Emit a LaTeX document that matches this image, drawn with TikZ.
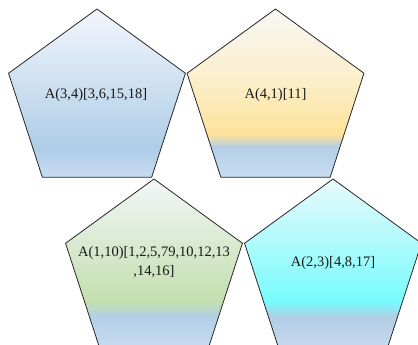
\documentclass[tikz,border=0pt]{standalone}
\usepackage{fontspec}
\setmainfont{Liberation Serif}
\definecolor{pA0}{HTML}{F2F6FB}
\definecolor{pA1}{HTML}{AFCDE8}
\definecolor{pA2}{HTML}{C8DCF1}
\definecolor{pB0}{HTML}{F7F7F4}
\definecolor{pB1}{HTML}{FBEFCD}
\definecolor{pB2}{HTML}{FDE29A}
\definecolor{pB3}{HTML}{B4CFE8}
\definecolor{pB4}{HTML}{C7DCF0}
\definecolor{pC0}{HTML}{F3F6F8}
\definecolor{pC1}{HTML}{C3DFAE}
\definecolor{pC2}{HTML}{B3CFE9}
\definecolor{pC3}{HTML}{C7DBF0}
\definecolor{pD0}{HTML}{E9FAFB}
\definecolor{pD1}{HTML}{77FBFD}
\definecolor{pD2}{HTML}{B2CDE6}
\definecolor{pD3}{HTML}{C7D8EE}
\pgfdeclareverticalshading{shA}{100bp}{color(0bp)=(pA2); color(25bp)=(pA2); color(33.5bp)=(pA1); color(75bp)=(pA0); color(100bp)=(pA0)}
\pgfdeclareverticalshading{shB}{100bp}{color(0bp)=(pB4); color(25bp)=(pB4); color(34bp)=(pB3); color(37.75bp)=(pB2); color(55bp)=(pB1); color(75bp)=(pB0); color(100bp)=(pB0)}
\pgfdeclareverticalshading{shC}{100bp}{color(0bp)=(pC3); color(25bp)=(pC3); color(34bp)=(pC2); color(38.5bp)=(pC1); color(75bp)=(pC0); color(100bp)=(pC0)}
\pgfdeclareverticalshading{shD}{100bp}{color(0bp)=(pD3); color(25bp)=(pD3); color(34bp)=(pD2); color(38.5bp)=(pD1); color(75bp)=(pD0); color(100bp)=(pD0)}
\tikzset{
  penta/.style={draw=black!85, line width=0.8pt, line join=miter},
  lbl/.style={font=\fontsize{14.5}{19}\selectfont, align=center, inner sep=0pt, text=black!90}
}
\newcommand{\pentpath}[1]{([shift={(90:93pt)}]#1) -- ([shift={(162:93pt)}]#1) -- ([shift={(234:93pt)}]#1) -- ([shift={(306:93pt)}]#1) -- ([shift={(18:93pt)}]#1) -- cycle}
\begin{document}
\begin{tikzpicture}[x=1pt,y=1pt]
\useasboundingbox (0,0) rectangle (418,345);
\coordinate (c1) at (97,243);
\coordinate (c2) at (275.5,243);
\coordinate (c3) at (154,73);
\coordinate (c4) at (333,73);
\begin{scope}
\clip (0,0) rectangle (418,345);
\draw[penta, shading=shA] \pentpath{c1};
\draw[penta, shading=shB] \pentpath{c2};
\draw[penta, shading=shC] \pentpath{c3};
\draw[penta, shading=shD] \pentpath{c4};
\end{scope}
\node[lbl] (t1) at (96,250) {A(3,4)[3,6,15,18]};
\node[lbl] (t2) at (275.5,250) {A(4,1)[11]};
\node[lbl] (t3) at (154,82.5) {A(1,10)[1,2,5,79,10,12,13\\,14,16]};
\node[lbl] (t4) at (333,82) {A(2,3)[4,8,17]};
\end{tikzpicture}
\end{document}
